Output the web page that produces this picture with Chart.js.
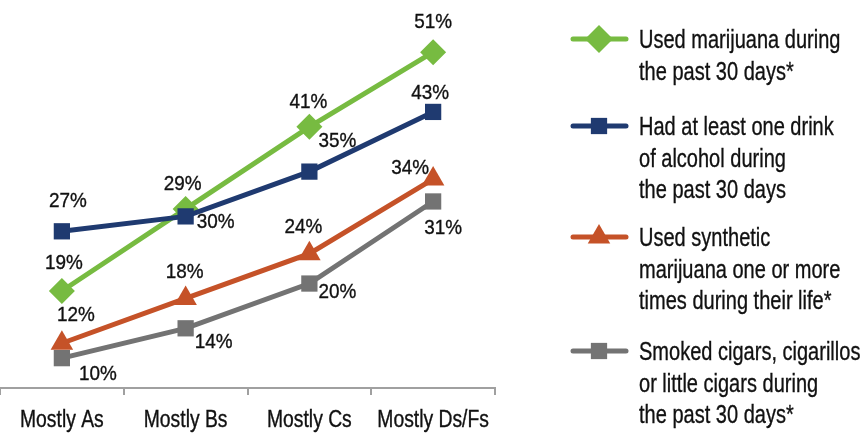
<!DOCTYPE html>
<html>
<head>
<meta charset="utf-8">
<script src="https://cdn.jsdelivr.net/npm/chart.js@4/dist/chart.umd.min.js"></script>
<style>
  html, body { margin: 0; padding: 0; background: #fff; }
  #wrap { position: relative; width: 861px; height: 433px; }
</style>
</head>
<body>
<div id="wrap"><canvas id="chart"></canvas></div>
<script>
// Datos (porcentajes)
const categories = ["Mostly As", "Mostly Bs", "Mostly Cs", "Mostly Ds/Fs"];
const marijuana = [19, 30, 41, 51];
const alcohol = [27, 29, 35, 43];
const synthetic = [12, 18, 24, 34];
const cigars = [10, 14, 20, 31];

const legendMarijuana = ["Used marijuana during", "the past 30 days*"];
const legendAlcohol = ["Had at least one drink", "of alcohol during", "the past 30 days"];
const legendSynthetic = ["Used synthetic", "marijuana one or more", "times during their life*"];
const legendCigars = ["Smoked cigars, cigarillos", "or little cigars during", "the past 30 days*"];

// Fuente estrecha simulada: Liberation Sans comprimida en horizontal
const FONT = "'Liberation Sans', Arial, sans-serif";
const CAP = 0.358; // media altura de mayúscula en em
const TEXT_COLOR = "#111";

// Desplazamiento de cada etiqueta respecto a su punto (px)
const LABEL_OFFSETS = [
  [[2, -30], [30, 12], [-1, -26], [0, -32]],
  [[6, -32], [-3, -34], [28, -32], [-3, -20]],
  [[14, -30], [-1, -28], [-6, -28], [-23, -13]],
  [[36, 14], [28, 12], [28, 7], [10, 25]],
];
const LEGEND_Y = [39, 126, 237, 351];

function series(label, legendLines, data, color, pointStyle, radius, order) {
  return {
    label,
    legendLines,
    data,
    order,
    borderColor: color,
    backgroundColor: color,
    pointBackgroundColor: color,
    pointBorderColor: color,
    pointBorderWidth: 0,
    pointStyle,
    pointRadius: radius,
    pointHoverRadius: radius,
    borderWidth: 5,
    tension: 0,
    clip: false,
  };
}

const datasets = [
  series("Used marijuana during the past 30 days*", legendMarijuana, marijuana, "#77bb41", "rectRot", 13, 1),
  series("Had at least one drink of alcohol during the past 30 days", legendAlcohol, alcohol, "#1f3a70", "rect", 11.5, 0),
  series("Used synthetic marijuana one or more times during their life*", legendSynthetic, synthetic, "#c55228", "triangle", 13, 0),
  series("Smoked cigars, cigarillos or little cigars during the past 30 days*", legendCigars, cigars, "#737373", "rect", 11.5, 0),
];

// texto comprimido con un trazo fino para darle más peso
function squeezedText(ctx, text, x, y, sx, align) {
  ctx.save();
  ctx.translate(x, y);
  ctx.scale(sx, 1);
  ctx.textAlign = align;
  ctx.textBaseline = "alphabetic";
  ctx.fillStyle = TEXT_COLOR;
  ctx.strokeStyle = TEXT_COLOR;
  ctx.lineWidth = 0.35;
  ctx.fillText(text, 0, 0);
  ctx.strokeText(text, 0, 0);
  ctx.restore();
}

function drawMarker(ctx, style, r, x, y) {
  ctx.beginPath();
  if (style === "rectRot") {
    ctx.moveTo(x, y - r); ctx.lineTo(x + r, y); ctx.lineTo(x, y + r); ctx.lineTo(x - r, y);
  } else if (style === "triangle") {
    const h = r * 1.5, w = r * Math.sqrt(3) / 2;
    ctx.moveTo(x, y - r); ctx.lineTo(x + w, y - r + h); ctx.lineTo(x - w, y - r + h);
  } else {
    const s = r * Math.SQRT1_2;
    ctx.rect(x - s, y - s, 2 * s, 2 * s);
  }
  ctx.closePath();
  ctx.fill();
}

const pointLabels = {
  id: "pointLabels",
  afterDatasetsDraw(chart) {
    const ctx = chart.ctx;
    ctx.save();
    ctx.font = `21px ${FONT}`;
    chart.data.datasets.forEach((ds, i) => {
      chart.getDatasetMeta(i).data.forEach((pt, j) => {
        const [dx, dy] = LABEL_OFFSETS[i][j];
        squeezedText(ctx, ds.data[j] + "%", pt.x + dx, pt.y + dy + CAP * 21, 0.9, "center");
      });
    });
    // etiquetas de categoría sobre la escala x
    const xs = chart.scales.x;
    ctx.font = `23px ${FONT}`;
    chart.data.labels.forEach((lab, i) => {
      squeezedText(ctx, lab, xs.getPixelForTick(i), xs.bottom + 32, 0.84, "center");
    });
    ctx.restore();
  },
};

const sideLegend = {
  id: "sideLegend",
  afterDraw(chart) {
    const ctx = chart.ctx;
    ctx.save();
    chart.data.datasets.forEach((ds, i) => {
      const y = LEGEND_Y[i];
      ctx.strokeStyle = ds.borderColor;
      ctx.lineWidth = 5;
      ctx.lineCap = "round";
      ctx.beginPath();
      ctx.moveTo(573, y);
      ctx.lineTo(626, y);
      ctx.stroke();
      ctx.fillStyle = ds.borderColor;
      drawMarker(ctx, ds.pointStyle, ds.pointStyle === "rectRot" ? 14 : ds.pointRadius, 599, y);
      ctx.font = `26px ${FONT}`;
      ds.legendLines.forEach((line, k) => squeezedText(ctx, line, 639, y + k * 31.5 + CAP * 26, 0.77, "left"));
    });
    ctx.restore();
  },
};

new Chart(document.getElementById("chart"), {
  type: "line",
  data: { labels: categories, datasets },
  options: {
    responsive: true,
    maintainAspectRatio: false,
    animation: false,
    layout: { autoPadding: false, padding: { left: -3, right: 366, top: 0, bottom: 38 } },
    plugins: { legend: { display: false }, tooltip: { enabled: false } },
    scales: {
      x: {
        offset: true,
        grid: { offset: true, drawOnChartArea: false, drawTicks: true, tickLength: 7, color: "#a0a0a0", lineWidth: 2 },
        border: { display: true, color: "#a0a0a0", width: 2 },
        ticks: { display: false },
      },
      y: { display: false, min: 6, max: 58 },
    },
  },
  plugins: [pointLabels, sideLegend],
});
</script>
</body>
</html>
